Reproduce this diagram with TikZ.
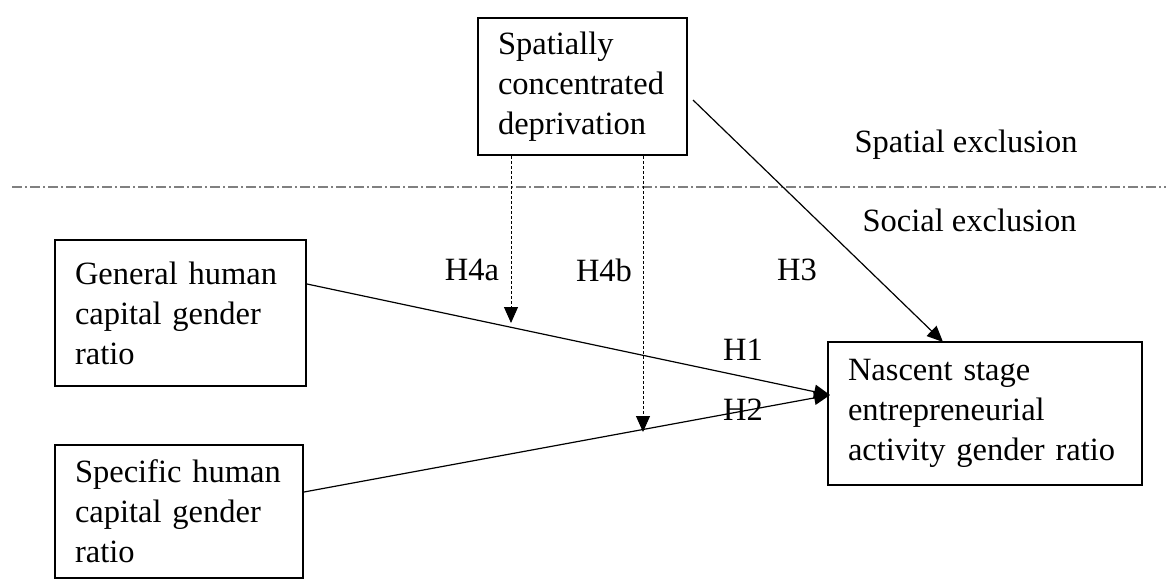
\documentclass[tikz,border=0pt]{standalone}
\usepackage{fontspec}
\setmainfont{Liberation Serif}
\usetikzlibrary{arrows.meta,calc}
\begin{document}
\begin{tikzpicture}[x=1pt,y=-1pt,
  box/.style={draw,line width=2pt,align=left,inner xsep=20pt,inner ysep=0pt,font=\fontsize{32.5}{40}\selectfont},
  lbl/.style={font=\fontsize{32.5}{40}\selectfont,inner sep=0pt},
  conn/.style={line width=1.2pt,-{Triangle[length=16pt,width=14pt]}},
  modarrow/.style={line width=1pt,dash pattern=on 3pt off 2pt,-{Triangle[length=16pt,width=14pt]}},
  divider/.style={line width=2pt,draw=black!50,dash pattern=on 10pt off 3pt on 2pt off 3pt}]
\useasboundingbox (0,0) rectangle (1166,581);
\node[box,text width=169pt,minimum height=137pt] (sp) at (582.5,86.5) {Spatially\\concentrated\\deprivation};
\node[box,text width=211pt,minimum height=146pt] (gen) at (180.5,313) {General human\\capital gender\\ratio};
\node[box,text width=208pt,minimum height=133pt] (spec) at (179,511.5) {Specific human\\capital gender\\ratio};
\node[box,text width=274pt,minimum height=143pt] (nas) at (985,413.5) {Nascent stage\\entrepreneurial\\activity gender ratio};
\node[lbl] (spx) at (966,145) {Spatial exclusion};
\node[lbl] (sox) at (969.5,220) {Social exclusion};
\node[lbl] (h4a) at (472,270) {H4a};
\node[lbl] (h4b) at (604,270) {H4b};
\node[lbl] (h3) at (797,270) {H3};
\node[lbl] (h1) at (743,350) {H1};
\node[lbl] (h2) at (743,410) {H2};
\coordinate (dl) at (12,187);
\coordinate (dr) at (1166,187);
\draw[divider] (dl) -- (dr);
\coordinate (tip) at (830,395);
\coordinate (m1) at (511,323);
\coordinate (m2) at (643,432);
\coordinate (top) at (943,342);
\draw[conn] ([yshift=29pt]gen.east) -- (tip);
\draw[conn] ([yshift=19.5pt]spec.east) -- (tip);
\draw[conn] ([xshift=5pt,yshift=-13.5pt]sp.east) -- (top);
\draw[modarrow] (sp.south -| m1) -- (m1);
\draw[modarrow] (sp.south -| m2) -- (m2);
\end{tikzpicture}
\end{document}
